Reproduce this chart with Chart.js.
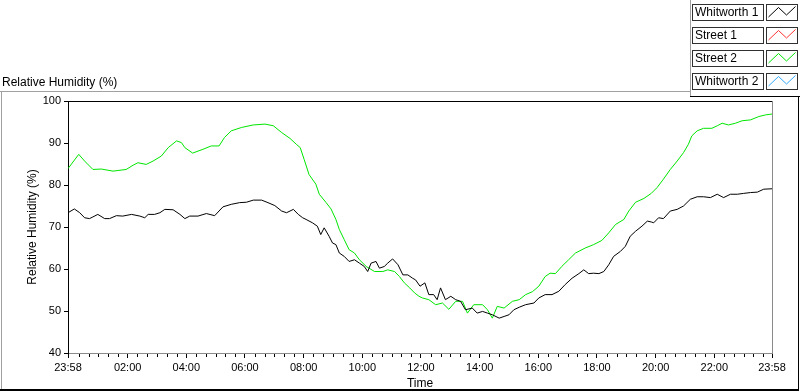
<!DOCTYPE html>
<html><head><meta charset="utf-8">
<script src="https://cdn.jsdelivr.net/npm/chart.js@4/dist/chart.umd.min.js"></script>
<style>html,body{margin:0;padding:0;background:#fff;overflow:hidden}</style>
</head><body>
<canvas id="c" width="800" height="392"></canvas>
<script>
// ---- data ----
const seriesNames = ['Whitworth 1', 'Street 1', 'Street 2', 'Whitworth 2'];
const seriesColors = ['#000000', '#ff3333', '#00e600', '#33aaff'];

// minutes elapsed since 23:58 (start of the record)
const w1Minutes = [0,13,24,34,44,51,61,75,85,99,
  112,130,147,157,164,177,188,198,215,229,
  239,249,266,283,300,317,334,351,365,379,
  396,409,423,437,447,461,471,480,487,500,
  510,517,524,534,541,548,555,565,575,586,
  596,606,613,620,630,637,647,654,664,675,
  685,695,705,711,720,730,738,748,755,762,
  772,783,793,803,813,827,837,848,858,868,
  882,892,902,912,923,936,953,963,976,990,
  1004,1017,1031,1045,1055,1065,1075,1086,1096,1106,
  1116,1130,1140,1150,1161,1174,1185,1193,1198,1208,
  1218,1232,1246,1259,1273,1287,1300,1314,1328,1341,
  1355,1369,1382,1396,1410,1423,1440];
const w1Values = [73.4,74.3,73.4,72.2,72.0,72.4,73.0,72.0,72.0,72.7,
  72.6,73.0,72.6,72.2,73.0,73.0,73.4,74.2,74.1,73.0,
  72.0,72.6,72.6,73.2,72.7,74.8,75.4,75.8,75.9,76.4,
  76.4,75.8,75.1,73.8,73.4,74.2,73.0,72.2,71.8,71.0,
  70.2,68.2,69.8,67.8,66.2,65.8,63.8,63.0,61.8,62.2,
  61.4,60.6,59.4,61.4,61.8,60.2,60.6,61.4,62.4,61.0,
  58.6,58.6,57.8,57.4,55.9,56.7,53.9,53.9,52.7,55.5,
  52.7,53.5,52.7,52.3,50.3,50.7,49.5,49.9,49.5,49.1,
  48.3,48.7,49.1,50.3,50.9,51.5,51.9,53.1,53.9,53.9,
  54.7,56.3,57.8,58.9,59.8,58.9,59.0,58.9,59.4,61.0,
  63.0,64.2,65.4,67.8,69.0,70.2,71.4,71.2,71.0,72.2,
  72.0,73.8,74.2,75.0,76.6,77.2,77.2,77.0,77.8,77.0,
  77.8,77.8,78.0,78.2,78.3,79.0,79.1];

const s2Minutes = [0,22,34,51,68,92,119,133,143,160,
  174,191,205,222,232,239,255,276,293,309,
  320,334,355,379,403,420,437,454,467,475,
  483,493,507,514,528,538,548,555,565,575,
  586,596,610,627,644,654,668,678,688,699,
  709,718,725,738,752,766,779,793,807,817,
  830,848,858,868,878,892,909,923,936,950,
  963,976,986,997,1010,1024,1038,1058,1075,1092,
  1106,1120,1137,1147,1161,1178,1193,1205,1218,1232,
  1246,1259,1269,1276,1287,1300,1317,1328,1338,1351,
  1365,1379,1396,1413,1427,1440];
const s2Values = [83.9,87.3,85.7,83.7,83.8,83.3,83.7,84.7,85.3,84.9,
  85.7,86.9,88.9,90.5,90.1,88.9,87.6,88.5,89.3,89.3,
  91.3,92.9,93.7,94.3,94.5,94.1,92.5,91.1,89.7,88.9,
  86.1,82.5,80.2,77.8,75.8,74.3,71.8,69.4,67.0,64.6,
  63.8,62.2,60.6,59.4,59.4,59.8,59.4,58.2,56.7,55.5,
  54.3,53.5,53.1,52.7,51.5,51.9,50.4,52.3,52.3,49.5,
  51.5,51.5,50.3,48.3,51.1,50.7,52.3,52.7,53.9,54.6,
  55.9,58.2,59.0,58.9,60.6,62.2,63.8,65.0,65.8,66.8,
  68.6,70.6,71.8,73.8,75.9,76.8,78.0,79.4,81.4,83.7,
  85.7,87.7,89.7,91.7,92.9,93.5,93.5,94.1,94.7,94.3,
  94.7,95.3,95.5,96.3,96.7,96.9];

const xTickMinutes = [0,122,242,362,482,602,722,842,962,1082,1202,1322,1440];
const xTickLabels = ['23:58','02:00','04:00','06:00','08:00','10:00','12:00','14:00','16:00','18:00','20:00','22:00','23:58'];
const yTickValues = [40,50,60,70,80,90,100];

// ---- build ----
const pts = (xs, ys) => xs.map((m, i) => ({x: m, y: ys[i]}));
const seriesData = [pts(w1Minutes, w1Values), [], pts(s2Minutes, s2Values), []];

const FONT = "'Liberation Sans', Arial, sans-serif";

const decor = {
  id: 'decor',
  beforeDraw(chart) {
    const ctx = chart.ctx;
    ctx.save();
    ctx.fillStyle = '#ffffff';
    ctx.fillRect(0, 0, chart.width, chart.height);
    ctx.restore();
  },
  afterDraw(chart) {
    const {ctx, chartArea: a, scales: {x}} = chart;
    ctx.save();
    // plot frame top (black) and right (gray)
    ctx.fillStyle = '#000';
    ctx.fillRect(Math.round(a.left), Math.round(a.top), Math.round(a.right - a.left), 1);
    ctx.fillStyle = '#8a8a8a';
    ctx.fillRect(Math.round(a.right), Math.round(a.top), 1, Math.round(a.bottom - a.top) + 1);
    // minor x ticks every 20 clock minutes
    ctx.fillStyle = '#000';
    for (let m = 2; m < 1440; m += 20) {
      if (xTickMinutes.some(t => Math.abs(t - m) < 5)) continue;
      const px = Math.round(x.getPixelForValue(m));
      ctx.fillRect(px, Math.round(a.bottom) + 1, 1, 3);
    }
    // outer panel frame
    ctx.fillStyle = '#a0a0a0';
    ctx.fillRect(0, 91, 690, 1);
    ctx.fillRect(1, 91, 1, 299);
    ctx.fillRect(690, 0, 1, 96);
    ctx.fillStyle = '#000';
    ctx.fillRect(690, 96, 110, 1);
    ctx.fillRect(798, 96, 1, 295);
    ctx.fillRect(0, 389, 799, 2);
    // legend
    ctx.font = '12px ' + FONT;
    ctx.textBaseline = 'middle';
    ctx.textAlign = 'left';
    chart.data.datasets.forEach((ds, i) => {
      const top = 4 + 23 * i;
      ctx.fillStyle = '#fff';
      ctx.fillRect(692, top, 71, 16);
      ctx.fillRect(766, top, 32, 16);
      ctx.strokeStyle = '#303030';
      ctx.lineWidth = 1;
      ctx.strokeRect(692.5, top + 0.5, 71, 16);
      ctx.strokeRect(766.5, top + 0.5, 31, 16);
      ctx.fillStyle = '#000';
      ctx.fillText(ds.label, 695, top + 9);
      ctx.strokeStyle = ds.borderColor;
      ctx.beginPath();
      ctx.moveTo(768.5, top + 13);
      ctx.lineTo(778.5, top + 3.5);
      ctx.lineTo(786.5, top + 11);
      ctx.lineTo(795.5, top + 2.5);
      ctx.stroke();
    });
    ctx.restore();
  }
};

new Chart(document.getElementById('c'), {
  type: 'line',
  data: {
    datasets: seriesNames.map((n, i) => ({
      label: n,
      data: seriesData[i],
      borderColor: seriesColors[i],
      backgroundColor: seriesColors[i],
      borderWidth: 1,
      pointRadius: 0,
      tension: 0,
      fill: false
    }))
  },
  options: {
    responsive: false,
    animation: false,
    devicePixelRatio: 1,
    parsing: true,
    layout: {padding: {left: 2, right: 28, top: 0, bottom: 0}},
    plugins: {
      legend: {display: false},
      tooltip: {enabled: false},
      title: {
        display: true,
        text: 'Relative Humidity (%)',
        align: 'start',
        color: '#000',
        font: {family: FONT, size: 12, weight: 'normal'},
        padding: {top: 75, bottom: 11.6}
      }
    },
    scales: {
      x: {
        type: 'linear',
        min: 0, max: 1440,
        afterBuildTicks: s => { s.ticks = xTickMinutes.map(v => ({value: v})); },
        afterFit: s => { s.height = 39; },
        ticks: {
          autoSkip: false, maxRotation: 0, padding: 3, color: '#000',
          font: {family: FONT, size: 11},
          callback: (v) => xTickLabels[xTickMinutes.indexOf(v)]
        },
        grid: {drawOnChartArea: false, drawTicks: true, tickLength: 5, tickColor: '#000'},
        border: {display: true, color: '#8a8a8a', width: 1},
        title: {display: true, text: 'Time', color: '#000', font: {family: FONT, size: 12}, padding: {top: 0, bottom: 1}}
      },
      y: {
        min: 40, max: 100,
        afterBuildTicks: s => { s.ticks = yTickValues.map(v => ({value: v})); },
        afterFit: s => { s.width = 66; },
        ticks: {padding: 3, color: '#000', font: {family: FONT, size: 11}},
        grid: {drawOnChartArea: false, drawTicks: true, tickLength: 4, tickColor: '#000'},
        border: {display: true, color: '#000', width: 1},
        title: {display: true, text: 'Relative Humidity (%)', color: '#000', font: {family: FONT, size: 12}, padding: {top: 23, bottom: 0}}
      }
    }
  },
  plugins: [decor]
});
</script>
</body></html>
